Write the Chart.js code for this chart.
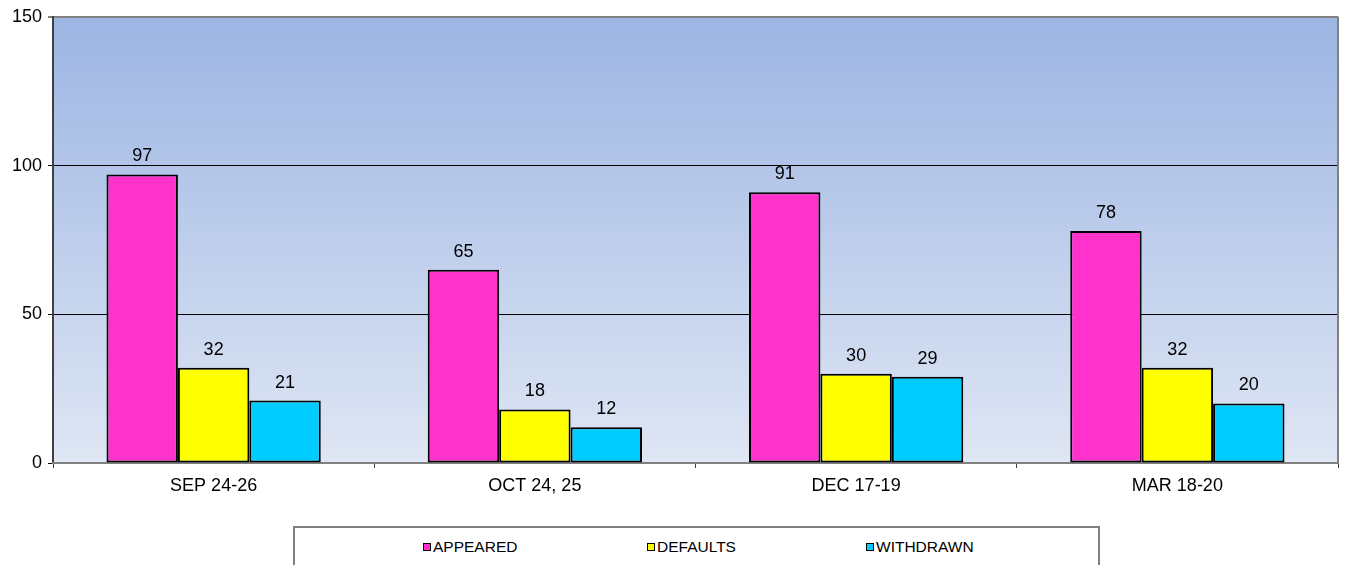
<!DOCTYPE html>
<html>
<head>
<meta charset="utf-8">
<script src="https://cdn.jsdelivr.net/npm/chart.js@4.4.1/dist/chart.umd.min.js"></script>
<style>
body { margin: 0; background: #fff; font-family: "Liberation Sans", Arial, sans-serif; }
#wrap { position: relative; width: 1345px; height: 565px; overflow: hidden; }
#legend { position: absolute; left: 293px; top: 526px; width: 803px; height: 60px; border: 2px solid #808080; background: #fff; }
.item { position: absolute; top: 10px; font-size: 15.5px; line-height: 18px; color: #000; white-space: nowrap; }
.item i { display: inline-block; width: 6px; height: 6px; border: 1px solid #000; margin-right: 2px; vertical-align: 1px; }
</style>
</head>
<body>
<div id="wrap">
	<canvas id="chart" width="1345" height="565"></canvas>
	<div id="legend"></div>
</div>
<script>
const categories = ['SEP 24-26', 'OCT 24, 25', 'DEC 17-19', 'MAR 18-20'];
const appeared = [97, 65, 91, 78];
const defaults = [32, 18, 30, 32];
const withdrawn = [21, 12, 29, 20];
const seriesNames = ['APPEARED', 'DEFAULTS', 'WITHDRAWN'];
const seriesColors = ['#ff33cc', '#ffff00', '#00ccff'];
const legendLeft = [128, 352, 571];

const font = '"Liberation Sans", Arial, sans-serif';

// gradient behind the bars
const plotBg = {
	id: 'plotBg',
	beforeDraw(chart) {
		const a = chart.chartArea;
		const c = chart.ctx;
		const g = c.createLinearGradient(0, a.top, 0, a.bottom);
		g.addColorStop(0, '#9cb5e3');
		g.addColorStop(1, '#dfe6f4');
		c.save();
		c.fillStyle = g;
		c.fillRect(a.left, a.top, a.right - a.left, a.bottom - a.top);
		c.restore();
	},
	afterDraw(chart) {
		const a = chart.chartArea;
		const c = chart.ctx;
		c.save();
		c.strokeStyle = '#808080';
		c.lineWidth = 2;
		c.beginPath();
		c.moveTo(a.right, a.top);
		c.lineTo(a.right, a.bottom);
		c.stroke();
		c.restore();
	}
};

// numbers over the bars
const barValues = {
	id: 'barValues',
	afterDatasetsDraw(chart) {
		const c = chart.ctx;
		c.save();
		c.font = '18px ' + font;
		c.fillStyle = '#000';
		c.textAlign = 'center';
		c.textBaseline = 'bottom';
		chart.data.datasets.forEach((ds, i) => {
			chart.getDatasetMeta(i).data.forEach((bar, j) => {
				c.fillText(ds.data[j], bar.x, bar.y - 9);
			});
		});
		c.restore();
	}
};

const data = [appeared, defaults, withdrawn];

new Chart(document.getElementById('chart'), {
	type: 'bar',
	data: {
		labels: categories,
		datasets: seriesNames.map((name, i) => ({
			label: name,
			data: data[i],
			backgroundColor: seriesColors[i],
			borderColor: '#000',
			borderWidth: 2,
			borderSkipped: false,
			categoryPercentage: 0.667,
			barPercentage: 1.0
		}))
	},
	options: {
		responsive: false,
		devicePixelRatio: 1,
		animation: false,
		layout: { padding: { top: 16, right: 7, left: 0, bottom: 62 } },
		plugins: {
			legend: { display: false },
			tooltip: { enabled: false }
		},
		scales: {
			y: {
				min: 0,
				max: 150,
				ticks: { stepSize: 50, color: '#000', font: { family: font, size: 18 }, padding: 6 },
				grid: {
					color: (ctx) => (ctx.tick && ctx.tick.value === 150 ? '#808080' : '#000'),
					lineWidth: (ctx) => (ctx.tick && ctx.tick.value === 150 ? 2 : 1),
					tickLength: 5
				},
				border: { color: '#404040', width: 2 },
				afterFit(scale) { scale.width = 53; }
			},
			x: {
				ticks: { color: '#000', font: { family: font, size: 18 }, padding: 7 },
				grid: { offset: true, drawOnChartArea: false, color: '#404040', tickLength: 5 },
				border: { color: '#808080', width: 2 },
				afterFit(scale) { scale.height = 40; }
			}
		}
	},
	plugins: [plotBg, barValues]
});

var legend = document.getElementById('legend');
seriesNames.forEach((name, i) => {
	var item = document.createElement('span');
	item.className = 'item';
	item.style.left = legendLeft[i] + 'px';
	item.innerHTML = '<i style="background:' + seriesColors[i] + '"></i>' + name;
	legend.appendChild(item);
});
</script>
</body>
</html>
